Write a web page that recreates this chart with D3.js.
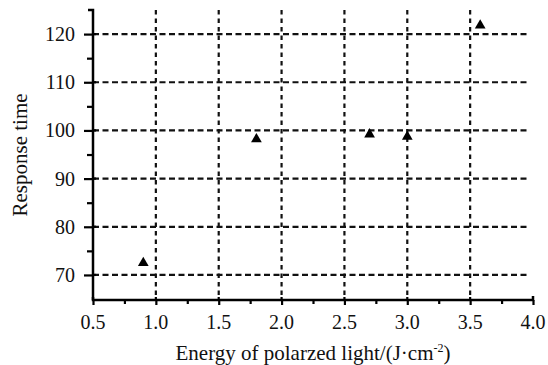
<!DOCTYPE html>
<html><head><meta charset="utf-8">
<script src="https://cdn.jsdelivr.net/npm/d3@7"></script>
</head><body style="margin:0">
<svg id="c" width="548" height="365"></svg>
<script>
const energy = [0.9, 1.8, 2.7, 3.0, 3.58];
const responseTime = [72.5, 98.2, 99.2, 98.7, 121.8];
const xTicks = [0.5, 1.0, 1.5, 2.0, 2.5, 3.0, 3.5, 4.0];
const xMinor = [0.75, 1.25, 1.75, 2.25, 2.75, 3.25, 3.75];
const yTicks = [70, 80, 90, 100, 110, 120];
const yMinor = [75, 85, 95, 105, 115];
const xGrid = [1.0, 1.5, 2.0, 2.5, 3.0, 3.5];

const svg = d3.select("#c");
const x = d3.scaleLinear().domain([0.5, 4.0]).range([93, 533]);
const y = d3.scaleLinear().domain([64.8, 125]).range([300, 10]);
const fmt = d3.format(".1f");

// grid
svg.append("g").selectAll("line").data(yTicks).join("line")
  .attr("x1", x(0.5)).attr("x2", 527).attr("y1", d => y(d)).attr("y2", d => y(d))
  .attr("stroke", "#111").attr("stroke-width", 2.2).attr("stroke-dasharray", "6,3.5");
svg.append("g").selectAll("line").data(xGrid).join("line")
  .attr("x1", d => x(d)).attr("x2", d => x(d)).attr("y1", y(125)).attr("y2", y(64.8))
  .attr("stroke", "#111").attr("stroke-width", 2.2).attr("stroke-dasharray", "4.5,4");

// axes (ticks via d3 axis, labels drawn as plain texts)
const xa = svg.append("g").attr("transform", `translate(0,${y(64.8)})`)
  .call(d3.axisBottom(x).tickValues(xTicks).tickFormat("").tickSize(5));
const xm = svg.append("g").attr("transform", `translate(0,${y(64.8)})`)
  .call(d3.axisBottom(x).tickValues(xMinor).tickFormat("").tickSize(4));
const ya = svg.append("g").attr("transform", `translate(${x(0.5)},0)`)
  .call(d3.axisLeft(y).tickValues(yTicks).tickFormat("").tickSize(9));
const ym = svg.append("g").attr("transform", `translate(${x(0.5)},0)`)
  .call(d3.axisLeft(y).tickValues(yMinor).tickFormat("").tickSize(6));
[xa, xm, ya, ym].forEach(g => {
  g.selectAll(".tick text").remove();
  g.select(".domain").attr("stroke", "#000").attr("stroke-width", 2.5);
  g.selectAll(".tick line").attr("stroke", "#000").attr("stroke-width", 2.2);
});
xa.select(".domain").attr("d", `M${x(0.5)},-3V0H${x(4.0)}V-4`);
ya.select(".domain").attr("d", `M-5,${y(125)}H0V${y(64.8)}`);
xm.select(".domain").remove(); ym.select(".domain").remove();
svg.append("g").selectAll("line").data(xTicks.slice(1, 7)).join("line")
  .attr("x1", d => x(d)).attr("x2", d => x(d)).attr("y1", y(64.8) - 3).attr("y2", y(64.8))
  .attr("stroke", "#000").attr("stroke-width", 2.2);
svg.append("g").selectAll("line").data(yTicks).join("line")
  .attr("x1", x(0.5)).attr("x2", x(0.5) + 3).attr("y1", d => y(d)).attr("y2", d => y(d))
  .attr("stroke", "#000").attr("stroke-width", 2.2);

const TS = "font-family:'Liberation Serif';font-size:20px;fill:#111";
svg.append("g").selectAll("text").data(xTicks).join("text")
  .attr("x", d => x(d)).attr("y", y(64.8) + 29).attr("text-anchor", "middle")
  .attr("style", TS).text(d => fmt(d));
svg.append("g").selectAll("text").data(yTicks).join("text")
  .attr("x", x(0.5) - 18).attr("y", d => y(d) + 7).attr("text-anchor", "end")
  .attr("style", TS).text(d => d);

// points
const tri = d3.symbol().type(d3.symbolTriangle).size(50);
svg.append("g").selectAll("path").data(energy).join("path")
  .attr("d", tri)
  .attr("transform", (d, i) => `translate(${x(d)},${y(responseTime[i])})`)
  .attr("fill", "#000");

// titles
const xt = svg.append("text").attr("x", 313).attr("y", 360).attr("text-anchor", "middle")
  .attr("style", "font-family:'Liberation Serif';font-size:21px;fill:#111");
xt.append("tspan").text("Energy of polarzed light/(J·cm");
xt.append("tspan").attr("dy", -8).attr("style", "font-size:12px").text("-2");
xt.append("tspan").attr("dy", 8).text(")");
svg.append("text").attr("transform", "translate(27,155) rotate(-90)").attr("text-anchor", "middle")
  .attr("style", "font-family:'Liberation Serif';font-size:21px;fill:#111").text("Response time");
</script>
</body></html>
